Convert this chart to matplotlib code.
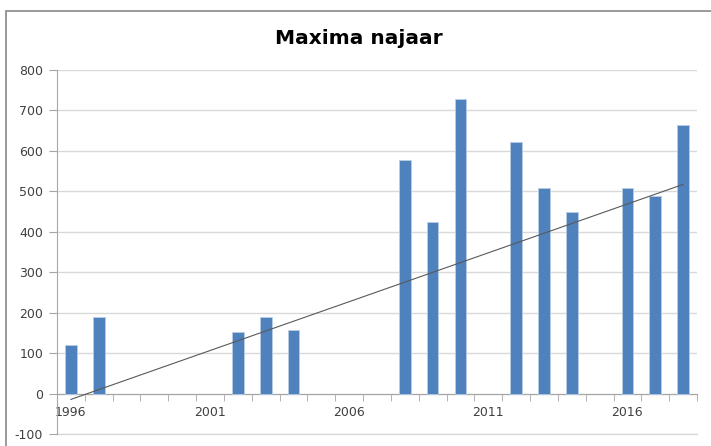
import numpy as np
import matplotlib.pyplot as plt
from matplotlib.patches import Rectangle

plt.rcParams['axes.unicode_minus'] = False

years = list(range(1996, 2019))
maxima = [120, 190, 0, 0, 0, 0, 152, 190, 158, 0, 0, 0,
          578, 425, 728, 0, 622, 508, 450, 0, 508, 488, 663]
label_years = [1996, 2001, 2006, 2011, 2016]

fig = plt.figure(figsize=(7.11, 4.46), dpi=100)
ax = fig.add_axes([57/711, 1 - 434/446, 640/711, 364/446])

x = np.arange(len(years))
vals = np.array(maxima, dtype=float)
ax.bar(x, vals, width=0.42, color='#4F81BD', edgecolor='#B9CDE5',
       linewidth=[0.6 if v > 0 else 0 for v in vals], zorder=3)

# linear trend over all categories (missing years count as 0)
slope, intercept = np.polyfit(x + 1, vals, 1)
ax.plot([x[0], x[-1]], [slope*(x[0]+1) + intercept, slope*(x[-1]+1) + intercept],
        color='#595959', linewidth=0.8, zorder=4)

ax.set_xlim(-0.5, len(years) - 0.5)
ax.set_ylim(-100, 800)
ax.set_yticks(range(-100, 801, 100))
ax.grid(axis='y', color='#D9D9D9', linewidth=1.0, zorder=0)
ax.axhline(-100, color='#D9D9D9', linewidth=1.0, clip_on=False, zorder=0)

for s in ['top', 'right']:
    ax.spines[s].set_visible(False)
ax.spines['bottom'].set_position(('data', 0))
ax.spines['bottom'].set_color('#A6A6A6')
ax.spines['left'].set_color('#A6A6A6')

ax.set_xticks([years.index(y) for y in label_years])
ax.set_xticklabels([str(y) for y in label_years])
ax.set_xticks(np.arange(-0.5, len(years)), minor=True)
ax.tick_params(axis='x', which='major', length=0, pad=9, labelsize=9, labelcolor='#404040')
ax.tick_params(axis='x', which='minor', length=5, color='#A6A6A6', direction='out')
ax.tick_params(axis='y', length=6, color='#A6A6A6', pad=4, labelsize=9, labelcolor='#404040')

fig.text(0.505, 1 - 38/446, 'Maxima najaar', ha='center', va='center',
         fontsize=14.5, fontweight='bold')

fig.patches.append(Rectangle((6/711, -0.1), 1.2, 1 - 10.5/446 + 0.1, transform=fig.transFigure,
                             fill=False, edgecolor='#888888', linewidth=1.2))

fig.savefig('out.png', dpi=100)
